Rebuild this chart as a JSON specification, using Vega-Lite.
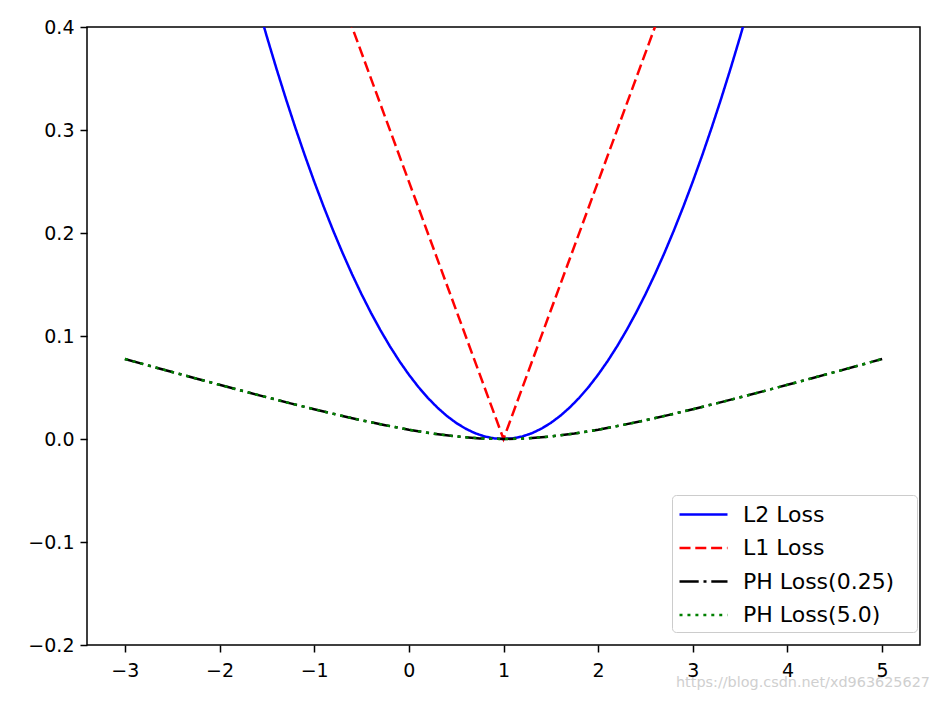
{
  "$schema": "https://vega.github.io/schema/vega-lite/v6.json",
  "width": 833,
  "height": 618,
  "autosize": {"type": "none"},
  "padding": {"left": 87, "top": 27, "right": 19, "bottom": 56},
  "background": "white",
  "title": {
    "text": "https://blog.csdn.net/xd963625627",
    "orient": "bottom",
    "anchor": "end",
    "fontSize": 14.4,
    "font": "DejaVu Sans",
    "fontWeight": "normal",
    "color": "#cfcfcf",
    "dx": 10,
    "offset": -4
  },
  "data": {
    "values": [
      {"s": "L2 Loss", "x": -1.6, "y": 0.4225},
      {"s": "L2 Loss", "x": -1.5, "y": 0.390625},
      {"s": "L2 Loss", "x": -1.4, "y": 0.36},
      {"s": "L2 Loss", "x": -1.3, "y": 0.330625},
      {"s": "L2 Loss", "x": -1.2, "y": 0.3025},
      {"s": "L2 Loss", "x": -1.1, "y": 0.275625},
      {"s": "L2 Loss", "x": -1.0, "y": 0.25},
      {"s": "L2 Loss", "x": -0.9, "y": 0.225625},
      {"s": "L2 Loss", "x": -0.8, "y": 0.2025},
      {"s": "L2 Loss", "x": -0.7, "y": 0.180625},
      {"s": "L2 Loss", "x": -0.6, "y": 0.16},
      {"s": "L2 Loss", "x": -0.5, "y": 0.140625},
      {"s": "L2 Loss", "x": -0.4, "y": 0.1225},
      {"s": "L2 Loss", "x": -0.3, "y": 0.105625},
      {"s": "L2 Loss", "x": -0.2, "y": 0.09},
      {"s": "L2 Loss", "x": -0.1, "y": 0.075625},
      {"s": "L2 Loss", "x": 0.0, "y": 0.0625},
      {"s": "L2 Loss", "x": 0.1, "y": 0.050625},
      {"s": "L2 Loss", "x": 0.2, "y": 0.04},
      {"s": "L2 Loss", "x": 0.3, "y": 0.030625},
      {"s": "L2 Loss", "x": 0.4, "y": 0.0225},
      {"s": "L2 Loss", "x": 0.5, "y": 0.015625},
      {"s": "L2 Loss", "x": 0.6, "y": 0.01},
      {"s": "L2 Loss", "x": 0.7, "y": 0.005625},
      {"s": "L2 Loss", "x": 0.8, "y": 0.0025},
      {"s": "L2 Loss", "x": 0.9, "y": 0.000625},
      {"s": "L2 Loss", "x": 1.0, "y": 0},
      {"s": "L2 Loss", "x": 1.1, "y": 0.000625},
      {"s": "L2 Loss", "x": 1.2, "y": 0.0025},
      {"s": "L2 Loss", "x": 1.3, "y": 0.005625},
      {"s": "L2 Loss", "x": 1.4, "y": 0.01},
      {"s": "L2 Loss", "x": 1.5, "y": 0.015625},
      {"s": "L2 Loss", "x": 1.6, "y": 0.0225},
      {"s": "L2 Loss", "x": 1.7, "y": 0.030625},
      {"s": "L2 Loss", "x": 1.8, "y": 0.04},
      {"s": "L2 Loss", "x": 1.9, "y": 0.050625},
      {"s": "L2 Loss", "x": 2.0, "y": 0.0625},
      {"s": "L2 Loss", "x": 2.1, "y": 0.075625},
      {"s": "L2 Loss", "x": 2.2, "y": 0.09},
      {"s": "L2 Loss", "x": 2.3, "y": 0.105625},
      {"s": "L2 Loss", "x": 2.4, "y": 0.1225},
      {"s": "L2 Loss", "x": 2.5, "y": 0.140625},
      {"s": "L2 Loss", "x": 2.6, "y": 0.16},
      {"s": "L2 Loss", "x": 2.7, "y": 0.180625},
      {"s": "L2 Loss", "x": 2.8, "y": 0.2025},
      {"s": "L2 Loss", "x": 2.9, "y": 0.225625},
      {"s": "L2 Loss", "x": 3.0, "y": 0.25},
      {"s": "L2 Loss", "x": 3.1, "y": 0.275625},
      {"s": "L2 Loss", "x": 3.2, "y": 0.3025},
      {"s": "L2 Loss", "x": 3.3, "y": 0.330625},
      {"s": "L2 Loss", "x": 3.4, "y": 0.36},
      {"s": "L2 Loss", "x": 3.5, "y": 0.390625},
      {"s": "L2 Loss", "x": 3.6, "y": 0.4225},
      {"s": "L1 Loss", "x": -3, "y": 1.0},
      {"s": "L1 Loss", "x": 1, "y": 0},
      {"s": "L1 Loss", "x": 5, "y": 1.0},
      {"s": "PH Loss(0.25)", "x": -3, "y": 0.0777},
      {"s": "PH Loss(0.25)", "x": -2.75, "y": 0.0713},
      {"s": "PH Loss(0.25)", "x": -2.5, "y": 0.065},
      {"s": "PH Loss(0.25)", "x": -2.25, "y": 0.0588},
      {"s": "PH Loss(0.25)", "x": -2, "y": 0.0526},
      {"s": "PH Loss(0.25)", "x": -1.75, "y": 0.0465},
      {"s": "PH Loss(0.25)", "x": -1.5, "y": 0.0405},
      {"s": "PH Loss(0.25)", "x": -1.25, "y": 0.0346},
      {"s": "PH Loss(0.25)", "x": -1, "y": 0.0289},
      {"s": "PH Loss(0.25)", "x": -0.75, "y": 0.0234},
      {"s": "PH Loss(0.25)", "x": -0.5, "y": 0.0182},
      {"s": "PH Loss(0.25)", "x": -0.25, "y": 0.0134},
      {"s": "PH Loss(0.25)", "x": 0, "y": 0.009},
      {"s": "PH Loss(0.25)", "x": 0.25, "y": 0.0053},
      {"s": "PH Loss(0.25)", "x": 0.5, "y": 0.0025},
      {"s": "PH Loss(0.25)", "x": 0.75, "y": 0.0006},
      {"s": "PH Loss(0.25)", "x": 1, "y": 0},
      {"s": "PH Loss(0.25)", "x": 1.25, "y": 0.0006},
      {"s": "PH Loss(0.25)", "x": 1.5, "y": 0.0025},
      {"s": "PH Loss(0.25)", "x": 1.75, "y": 0.0053},
      {"s": "PH Loss(0.25)", "x": 2, "y": 0.009},
      {"s": "PH Loss(0.25)", "x": 2.25, "y": 0.0134},
      {"s": "PH Loss(0.25)", "x": 2.5, "y": 0.0182},
      {"s": "PH Loss(0.25)", "x": 2.75, "y": 0.0234},
      {"s": "PH Loss(0.25)", "x": 3, "y": 0.0289},
      {"s": "PH Loss(0.25)", "x": 3.25, "y": 0.0346},
      {"s": "PH Loss(0.25)", "x": 3.5, "y": 0.0405},
      {"s": "PH Loss(0.25)", "x": 3.75, "y": 0.0465},
      {"s": "PH Loss(0.25)", "x": 4, "y": 0.0526},
      {"s": "PH Loss(0.25)", "x": 4.25, "y": 0.0588},
      {"s": "PH Loss(0.25)", "x": 4.5, "y": 0.065},
      {"s": "PH Loss(0.25)", "x": 4.75, "y": 0.0713},
      {"s": "PH Loss(0.25)", "x": 5, "y": 0.0777},
      {"s": "PH Loss(5.0)", "x": -3, "y": 0.0777},
      {"s": "PH Loss(5.0)", "x": -2.75, "y": 0.0713},
      {"s": "PH Loss(5.0)", "x": -2.5, "y": 0.065},
      {"s": "PH Loss(5.0)", "x": -2.25, "y": 0.0588},
      {"s": "PH Loss(5.0)", "x": -2, "y": 0.0526},
      {"s": "PH Loss(5.0)", "x": -1.75, "y": 0.0465},
      {"s": "PH Loss(5.0)", "x": -1.5, "y": 0.0405},
      {"s": "PH Loss(5.0)", "x": -1.25, "y": 0.0346},
      {"s": "PH Loss(5.0)", "x": -1, "y": 0.0289},
      {"s": "PH Loss(5.0)", "x": -0.75, "y": 0.0234},
      {"s": "PH Loss(5.0)", "x": -0.5, "y": 0.0182},
      {"s": "PH Loss(5.0)", "x": -0.25, "y": 0.0134},
      {"s": "PH Loss(5.0)", "x": 0, "y": 0.009},
      {"s": "PH Loss(5.0)", "x": 0.25, "y": 0.0053},
      {"s": "PH Loss(5.0)", "x": 0.5, "y": 0.0025},
      {"s": "PH Loss(5.0)", "x": 0.75, "y": 0.0006},
      {"s": "PH Loss(5.0)", "x": 1, "y": 0},
      {"s": "PH Loss(5.0)", "x": 1.25, "y": 0.0006},
      {"s": "PH Loss(5.0)", "x": 1.5, "y": 0.0025},
      {"s": "PH Loss(5.0)", "x": 1.75, "y": 0.0053},
      {"s": "PH Loss(5.0)", "x": 2, "y": 0.009},
      {"s": "PH Loss(5.0)", "x": 2.25, "y": 0.0134},
      {"s": "PH Loss(5.0)", "x": 2.5, "y": 0.0182},
      {"s": "PH Loss(5.0)", "x": 2.75, "y": 0.0234},
      {"s": "PH Loss(5.0)", "x": 3, "y": 0.0289},
      {"s": "PH Loss(5.0)", "x": 3.25, "y": 0.0346},
      {"s": "PH Loss(5.0)", "x": 3.5, "y": 0.0405},
      {"s": "PH Loss(5.0)", "x": 3.75, "y": 0.0465},
      {"s": "PH Loss(5.0)", "x": 4, "y": 0.0526},
      {"s": "PH Loss(5.0)", "x": 4.25, "y": 0.0588},
      {"s": "PH Loss(5.0)", "x": 4.5, "y": 0.065},
      {"s": "PH Loss(5.0)", "x": 4.75, "y": 0.0713},
      {"s": "PH Loss(5.0)", "x": 5, "y": 0.0777}
    ]
  },
  "mark": {"type": "line", "clip": true, "strokeWidth": 2.5, "strokeCap": "butt"},
  "encoding": {
    "x": {
      "field": "x",
      "type": "quantitative",
      "scale": {"domain": [-3.4, 5.4], "nice": false, "zero": false},
      "axis": {"values": [-3, -2, -1, 0, 1, 2, 3, 4, 5], "format": "d", "title": null}
    },
    "y": {
      "field": "y",
      "type": "quantitative",
      "scale": {"domain": [-0.2, 0.4], "nice": false, "zero": false},
      "axis": {"values": [-0.2, -0.1, 0, 0.1, 0.2, 0.3, 0.4], "format": ".1f", "title": null}
    },
    "color": {
      "field": "s",
      "type": "nominal",
      "scale": {
        "domain": ["L2 Loss", "L1 Loss", "PH Loss(0.25)", "PH Loss(5.0)"],
        "range": ["#0000ff", "#ff0000", "#000000", "#008000"]
      },
      "legend": {"title": null, "labelExpr": "datum.label + '\u2800'"}
    },
    "strokeDash": {
      "field": "s",
      "type": "nominal",
      "scale": {
        "domain": ["L2 Loss", "L1 Loss", "PH Loss(0.25)", "PH Loss(5.0)"],
        "range": [[1, 0], [11, 4.8], [19.2, 4.8, 3, 4.8], [3, 4.95]]
      },
      "legend": {"title": null, "labelExpr": "datum.label + '\u2800'"}
    }
  },
  "config": {
    "font": "DejaVu Sans",
    "view": {"stroke": "#000000", "strokeWidth": 1.5},
    "axis": {
      "grid": false,
      "domain": false,
      "ticks": true,
      "tickColor": "#000000",
      "tickWidth": 1.5,
      "tickSize": 7,
      "labelColor": "#000000",
      "labelFont": "DejaVu Sans",
      "labelFontSize": 19,
      "labelFlush": false,
      "labelOverlap": false
    },
    "axisX": {"labelPadding": 9},
    "axisY": {"labelPadding": 6},
    "legend": {
      "orient": "none",
      "legendX": 585,
      "legendY": 468,
      "strokeColor": "#cccccc",
      "fillColor": "#ffffff",
      "cornerRadius": 4,
      "padding": 6,
      "symbolType": "M-2,0H2",
      "symbolSize": 576,
      "symbolOffset": 12,
      "symbolStrokeWidth": 2.5,
      "labelFont": "DejaVu Sans",
      "labelFontSize": 22,
      "labelColor": "#000000",
      "labelOffset": 26,
      "rowPadding": 8.5,
      "labelLimit": 400
    }
  }
}
